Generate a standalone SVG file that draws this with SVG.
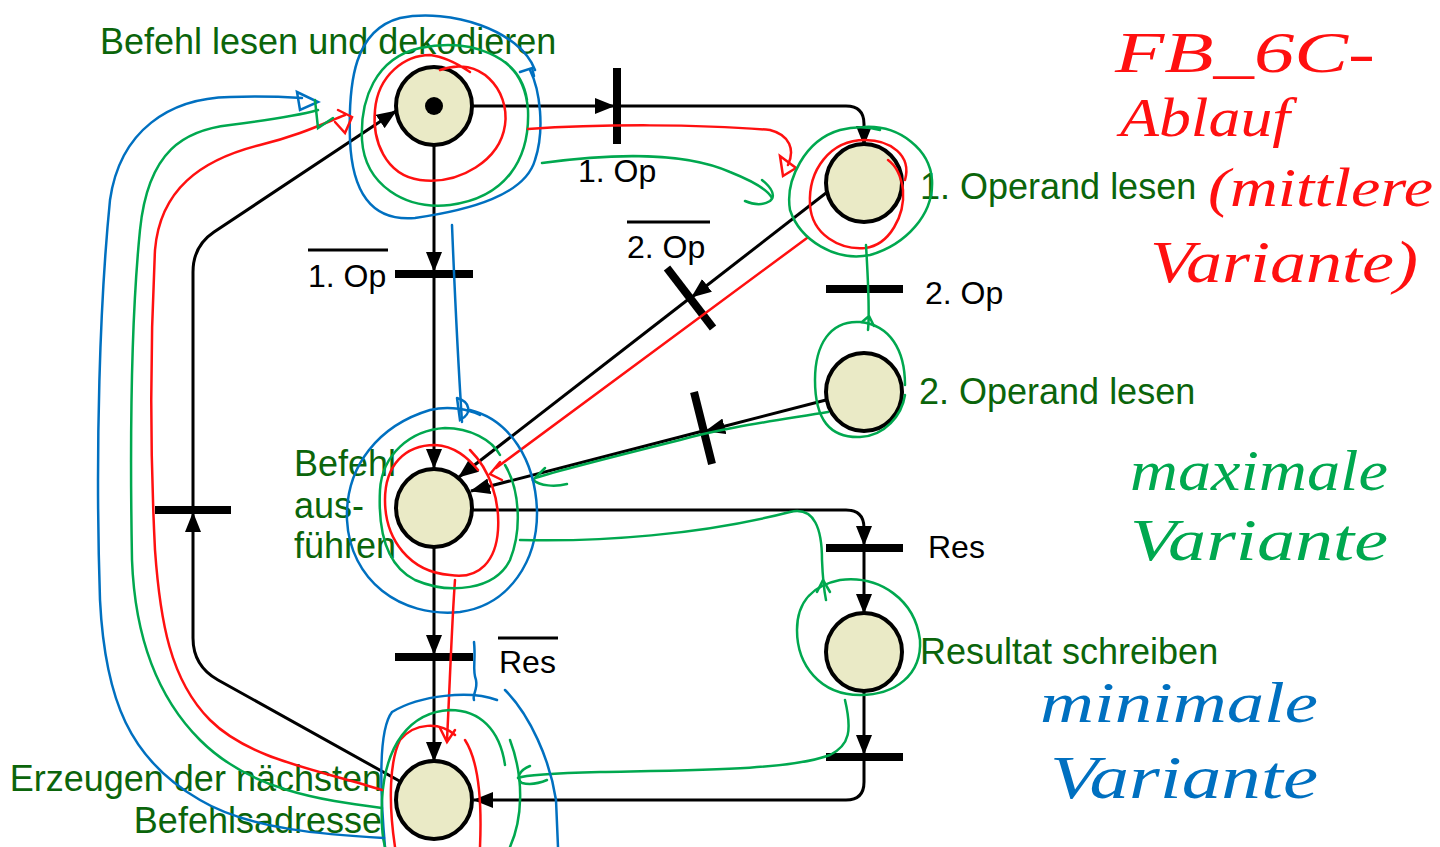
<svg xmlns="http://www.w3.org/2000/svg" width="1440" height="847" viewBox="0 0 1440 847">
<defs>
<marker id="ah" markerWidth="20" markerHeight="16" refX="19" refY="8" orient="auto" markerUnits="userSpaceOnUse"><path d="M0,0 L20,8 L0,16 z" fill="#000"/></marker>
<style>
.place{fill:#eaeac6;stroke:#000;stroke-width:4}
.bar{stroke:#000;stroke-width:8;fill:none}
.arc{stroke:#000;stroke-width:3;fill:none;marker-end:url(#ah)}
.lbl{font-family:"Liberation Sans",Arial,sans-serif;font-size:36px;fill:#0b650b}
.cond{font-family:"Liberation Sans",Arial,sans-serif;font-size:32px;fill:#000}
.ov{stroke:#000;stroke-width:3}
.hw{font-family:"Liberation Serif","DejaVu Serif",serif;font-style:italic}
.r{stroke:#ff1010;stroke-width:2.5;fill:none;stroke-linecap:round}
.g{stroke:#00a84f;stroke-width:2.5;fill:none;stroke-linecap:round}
.b{stroke:#0070c0;stroke-width:2.5;fill:none;stroke-linecap:round}
</style>
</defs>
<rect width="1440" height="847" fill="#fff"/>

<g id="connectors">
<path class="arc" d="M472,106 H614"/>
<path class="arc" d="M617,106 H846 Q864,106 864,124 V145"/>
<path class="arc" d="M434,145 V271"/>
<path class="arc" d="M434,274 V468"/>
<path class="arc" d="M826,193 L692,297"/>
<path class="arc" d="M690,298 L459,477"/>
<path class="arc" d="M826,400 L706,431"/>
<path class="arc" d="M703,431 L471,491"/>
<path class="arc" d="M473,510 H846 Q864,510 864,528 V545"/>
<path class="arc" d="M864,549 V613"/>
<path class="arc" d="M434,548 V654"/>
<path class="arc" d="M434,657 V761"/>
<path class="arc" d="M864,691 V754"/>
<path class="arc" d="M864,757 V782 Q864,800 846,800 H474"/>
<path class="arc" d="M403,783 L218,680 Q193,666 193,638 V513"/>
<path class="arc" d="M193,510 V272 Q193,246 214,232 L396,111"/>
</g>

<g id="t1"><line class="bar" x1="617" y1="68" x2="617" y2="144"/></g>
<g id="t2"><line class="bar" x1="395" y1="274" x2="473" y2="274"/></g>
<g id="t3"><line class="bar" x1="667" y1="268" x2="713" y2="328"/></g>
<g id="t4"><line class="bar" x1="826" y1="289" x2="903" y2="289"/></g>
<g id="t5"><line class="bar" x1="694" y1="392" x2="712" y2="464"/></g>
<g id="t6"><line class="bar" x1="826" y1="548" x2="903" y2="548"/></g>
<g id="t7"><line class="bar" x1="395" y1="657" x2="473" y2="657"/></g>
<g id="t8"><line class="bar" x1="826" y1="757" x2="903" y2="757"/></g>
<g id="t9"><line class="bar" x1="155" y1="510" x2="231" y2="510"/></g>

<g id="p1"><ellipse class="place" cx="434" cy="106" rx="38" ry="39"/><circle cx="434" cy="106" r="9" fill="#000"/></g>
<g id="p2"><ellipse class="place" cx="864" cy="183" rx="38" ry="39"/></g>
<g id="p3"><ellipse class="place" cx="864" cy="392" rx="38" ry="39"/></g>
<g id="p4"><ellipse class="place" cx="434" cy="508" rx="38" ry="39"/></g>
<g id="p5"><ellipse class="place" cx="864" cy="652" rx="38" ry="39"/></g>
<g id="p6"><ellipse class="place" cx="434" cy="800" rx="38" ry="39"/></g>

<g id="labels">
<text class="lbl" x="100" y="54">Befehl lesen und dekodieren</text>
<text class="lbl" x="920" y="199">1. Operand lesen</text>
<text class="lbl" x="919" y="404">2. Operand lesen</text>
<text class="lbl" x="294" y="476">Befehl</text>
<text class="lbl" x="294" y="518">aus-</text>
<text class="lbl" x="294" y="558">führen</text>
<text class="lbl" x="920" y="664">Resultat schreiben</text>
<text class="lbl" x="382" y="791" text-anchor="end">Erzeugen der nächsten</text>
<text class="lbl" x="382" y="833" text-anchor="end">Befehlsadresse</text>
<text class="cond" x="578" y="182">1. Op</text>
<text class="cond" x="308" y="287">1. Op</text>
<line class="ov" x1="308" y1="250" x2="388" y2="250"/>
<text class="cond" x="627" y="258">2. Op</text>
<line class="ov" x1="627" y1="222" x2="710" y2="222"/>
<text class="cond" x="925" y="304">2. Op</text>
<text class="cond" x="928" y="558">Res</text>
<text class="cond" x="499" y="673">Res</text>
<line class="ov" x1="498" y1="638" x2="558" y2="638"/>
</g>

<g id="notes">
<text class="hw" x="1115" y="72" font-size="58" fill="#ff1010" textLength="260" lengthAdjust="spacingAndGlyphs">FB_6C-</text>
<text class="hw" x="1120" y="136" font-size="54" fill="#ff1010" textLength="170" lengthAdjust="spacingAndGlyphs">Ablauf</text>
<text class="hw" x="1208" y="206" font-size="54" fill="#ff1010" textLength="225" lengthAdjust="spacingAndGlyphs">(mittlere</text>
<text class="hw" x="1150" y="282" font-size="60" fill="#ff1010" textLength="268" lengthAdjust="spacingAndGlyphs">Variante)</text>
<text class="hw" x="1130" y="490" font-size="56" fill="#00a84f" textLength="258" lengthAdjust="spacingAndGlyphs">maximale</text>
<text class="hw" x="1130" y="560" font-size="60" fill="#00a84f" textLength="258" lengthAdjust="spacingAndGlyphs">Variante</text>
<text class="hw" x="1040" y="722" font-size="56" fill="#0070c0" textLength="278" lengthAdjust="spacingAndGlyphs">minimale</text>
<text class="hw" x="1050" y="798" font-size="62" fill="#0070c0" textLength="268" lengthAdjust="spacingAndGlyphs">Variante</text>

<path class="b" d="M530,70 C540,90 545,130 535,160 C525,195 470,210 415,218 C370,222 352,190 350,140 C348,80 355,30 400,18 C450,8 520,30 535,70"/>
<path class="b" d="M520,72 L532,68 L534,76"/>
<path class="r" d="M440,70 C480,55 510,90 505,125 C500,160 460,185 420,180 C385,175 372,140 375,110 C378,75 405,55 430,55 C440,56 455,62 470,72"/>
<path class="g" d="M527,100 C520,55 470,38 420,48 C375,58 360,100 362,140 C365,185 405,210 450,205 C505,198 530,160 528,110 C526,85 515,70 505,62"/>
<path class="r" d="M528,129 C600,124 700,124 770,130 C790,135 795,150 788,165"/>
<path class="r" d="M780,156 L783,176 L796,168 z"/>
<path class="g" d="M542,163 C600,155 680,150 730,172 C755,182 768,190 772,198"/>
<path class="g" d="M762,180 C772,188 776,196 770,201 C762,206 752,204 745,201"/>
<path class="r" d="M905,180 C912,155 890,140 865,140 C830,140 808,170 810,205 C812,235 840,250 865,248 C890,245 905,215 903,190 C901,175 895,165 888,160"/>
<path class="r" d="M807,238 L496,468"/>
<path class="r" d="M500,462 L490,474 L502,480"/>
<path class="g" d="M864,127 C900,125 930,150 932,180 C934,215 905,245 870,255 C835,262 800,240 790,210 C785,180 805,140 840,130 C855,126 870,127 880,130"/>
<path class="g" d="M866,245 C868,280 870,310 868,330 M862,322 L869,316 L874,326"/>
<path class="g" d="M905,385 C905,350 890,325 860,322 C830,320 815,345 815,380 C815,420 830,438 860,437 C885,436 902,415 905,395"/>
<path class="g" d="M828,412 C780,420 720,428 680,440 C620,455 560,470 535,478"/>
<path class="g" d="M545,468 L533,480 C540,486 555,487 567,484"/>
<path class="b" d="M452,225 C455,300 458,360 462,422"/>
<path class="b" d="M457,398 L460,420 C472,414 471,402 457,398"/>
<path class="b" d="M470,410 C510,420 535,460 537,510 C538,560 510,605 460,612 C400,618 350,580 347,520 C345,465 380,425 430,410 C450,405 470,410 480,415"/>
<path class="r" d="M470,450 C490,470 500,500 498,530 C496,560 480,580 450,575 C410,572 385,540 385,500 C385,465 405,445 435,445 C455,446 468,458 478,470"/>
<path class="r" d="M455,580 C452,620 450,680 447,740 M440,728 L447,742 L455,730"/>
<path class="g" d="M505,465 C520,490 522,530 510,560 C495,590 450,595 415,580 C385,565 378,530 380,490 C382,455 410,430 445,428 C470,428 492,440 500,455"/>
<path class="g" d="M520,540 C600,542 700,535 790,512 C815,506 822,530 822,560 C823,585 825,595 826,600"/>
<path class="g" d="M817,592 L823,580 L830,592"/>
<path class="g" d="M840,580 C880,575 915,600 920,640 C922,675 895,695 860,695 C820,695 797,665 797,630 C797,600 815,585 840,580"/>
<path class="g" d="M845,700 C852,730 850,745 830,755 C790,770 700,770 600,772 C560,773 525,775 518,778"/>
<path class="g" d="M530,766 C520,770 515,778 522,783 C530,785 540,783 547,780"/>
<path class="b" d="M474,642 C476,660 472,670 476,680 C478,690 472,695 474,700"/>
<path class="b" d="M497,700 C470,690 420,695 392,712 C378,730 380,790 385,847"/>
<path class="b" d="M505,690 C530,715 550,760 556,800 L558,847"/>
<path class="r" d="M465,740 C478,760 482,800 480,847"/>
<path class="r" d="M395,847 C388,800 390,760 400,740 C415,722 440,722 455,735"/>
<path class="g" d="M505,765 C500,730 480,710 450,710 C410,712 385,745 382,800 C381,825 383,840 385,847"/>
<path class="g" d="M510,740 C525,780 522,820 510,847"/>
<path class="b" d="M384,838 C330,835 250,830 200,800 C130,760 105,700 100,600 C95,450 100,300 110,200 C120,130 170,98 230,97 C260,96 285,97 302,98"/>
<path class="b" d="M297,92 L300,110 L318,102 z"/>
<path class="r" d="M382,790 C320,770 250,760 210,720 C170,680 160,620 155,550 C150,450 150,350 155,250 C160,190 200,160 260,145 C300,135 320,125 345,115"/>
<path class="r" d="M338,110 L352,117 L345,133 L335,122"/>
<path class="g" d="M382,808 C320,800 250,790 200,740 C160,700 135,640 132,560 C130,450 130,330 140,230 C148,150 185,130 230,125 C270,120 300,115 318,110"/>
<path class="g" d="M315,100 L318,128 L333,118"/>
</g>
</svg>
